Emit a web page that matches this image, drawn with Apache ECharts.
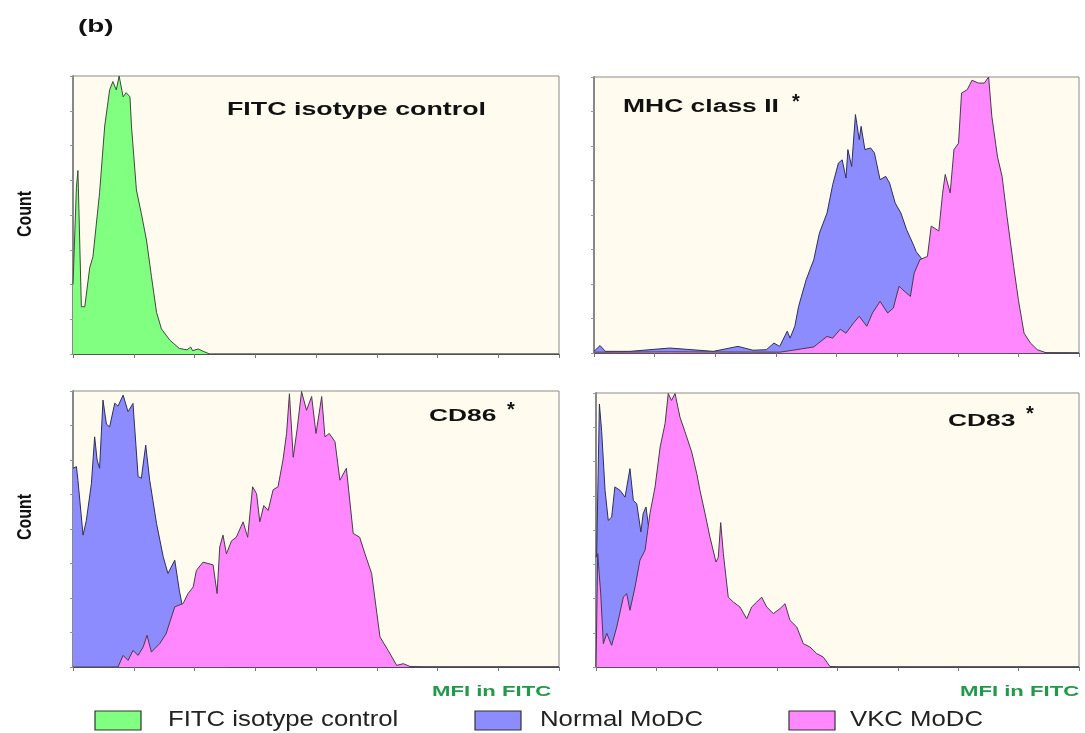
<!DOCTYPE html>
<html>
<head>
<meta charset="utf-8">
<script src="https://cdn.jsdelivr.net/npm/echarts@6/dist/echarts.min.js"></script>
<style>
  html, body { margin: 0; padding: 0; background: #fff; }
  #main { width: 1085px; height: 733px; }
</style>
</head>
<body>
<div id="main"></div>
<script>
// channel positions (0..256) and relative counts (% of panel max)
const isoCh    = [0, 1.8, 2.6, 4.4, 6.2, 8.8, 10.5, 14, 16.7, 19.3, 21, 22.8, 24.3, 26.4, 28, 30, 30.8, 33.4, 36, 38.7, 41.3, 44, 46.6, 51, 56, 60, 62, 63, 66, 68.5, 72, 256];
const isoCount = [25, 60, 66, 17, 17, 31, 35, 58, 82, 95, 98, 95, 100, 92.5, 94, 92.5, 82, 59, 50.5, 41, 28, 15, 9, 5, 2, 1.5, 2.5, 1.2, 1.8, 1, 0, 0];

const mhcNormalCh    = [0, 3.2, 6, 19, 40, 63, 76, 84, 91, 95, 98, 102, 103.5, 106, 108, 112, 116, 119, 123, 126, 129, 131, 133, 134, 136, 138, 140, 141, 143, 146, 148, 151, 154, 156, 159, 162, 165, 169, 170, 176, 183, 190, 197, 204, 213, 256];
const mhcNormalCount = [0.6, 2.7, 0.6, 0.6, 1.8, 0.6, 2.4, 1, 1.2, 3.6, 2.4, 7.9, 5.4, 9.7, 16.9, 26.6, 33.8, 43.5, 50.7, 61, 68.8, 70, 63.4, 73.7, 67.6, 86.4, 77.3, 82.1, 73.7, 74.3, 72.5, 62.8, 64, 61.6, 54.3, 50.7, 44.7, 38.6, 36.8, 31.4, 21.7, 12, 4.8, 1.2, 0.2, 0];
const mhcVkcCh    = [0, 40, 98, 105, 116, 123, 126, 130, 133, 137, 140, 144, 147, 151, 155, 158, 161, 163, 167, 169, 172, 176, 178, 182, 184, 185.4, 188, 190, 192.4, 194, 197, 199.5, 203, 206, 208.3, 210, 213, 215.4, 218, 221.5, 224, 227, 230.4, 234, 239, 256];
const mhcVkcCount = [0.3, 0.4, 0.3, 1, 2.2, 6, 5.4, 8.6, 7.2, 10.9, 13.3, 9.7, 14.5, 18.7, 14.5, 16.3, 24.2, 22.9, 20.5, 29, 33.8, 35, 46, 44.2, 57.9, 64.7, 58, 73.7, 76, 94.2, 95.4, 98.8, 97.8, 97.8, 100, 85.7, 71, 64, 49.5, 31.4, 19.3, 7.2, 3.6, 1.2, 0, 0];

const cd86NormalCh    = [0, 1.8, 2.6, 5.3, 7, 9.7, 11.4, 12.7, 14, 15.8, 17.6, 19.3, 22, 23.7, 26.4, 29, 31.6, 34.3, 36, 38.3, 40.4, 44, 47.5, 50, 53.6, 56, 58, 59.8, 63.3, 68.5, 75.6, 81, 256];
const cd86NormalCount = [72, 72.6, 67.7, 47.8, 53, 66.5, 83.4, 75, 72, 96.7, 88, 87, 95.6, 94.5, 98.5, 92.5, 95.5, 69, 68.4, 80.4, 67.7, 52, 40, 33.9, 38.7, 27.8, 20.6, 25, 17, 7, 1.2, 0, 0];
const cd86VkcCh    = [0, 17, 17.6, 23.7, 26.4, 29, 31.6, 34.3, 37, 39, 41.3, 45.7, 49, 53.6, 58, 60.6, 63.3, 65, 68.5, 73.8, 75.9, 77.3, 79, 80.8, 83.5, 86, 89.6, 92, 94.6, 96.7, 98.4, 100.5, 102.8, 105.4, 108, 110.6, 112.5, 114, 116, 118, 120.4, 123, 125.7, 128, 131, 132.7, 135, 138, 140.6, 144, 147.6, 151, 153.8, 157.3, 161.7, 166, 170.5, 174, 177.5, 186, 256];
const cd86VkcCount = [0, 0, 0.2, 0, 4.2, 2.4, 6, 4.2, 7.3, 11.5, 5.4, 8.5, 12, 21.8, 23, 26.6, 29, 35, 38, 37, 26.6, 43.5, 47.8, 41, 45.7, 47, 52.6, 47, 65.3, 62.8, 52.6, 58.5, 56.7, 64.2, 65.3, 75, 84.6, 99, 76, 85.9, 99.8, 93, 98, 84.6, 98, 83.4, 84.6, 81.6, 67.7, 72, 48.4, 47, 41, 33.9, 10.9, 6, 0.6, 1.2, 0.2, 0, 0];

const cd83NormalCh    = [0, 0.35, 1.8, 3, 4.8, 6.5, 8.3, 10, 12.7, 15.4, 18, 19.8, 21.6, 23.8, 25, 26.5, 27.7, 30.4, 35.7, 41, 44.5, 256];
const cd83NormalCount = [40, 41, 96, 86, 64.5, 53.5, 54.7, 65.7, 64.5, 62, 72.4, 60.8, 59.6, 49.3, 56, 58.4, 52, 46, 25.5, 7.3, 0, 0];
const cd83VkcCh    = [0, 0.9, 1.2, 2.5, 3.9, 5.7, 8.3, 11, 14.5, 16.25, 18, 20.7, 23.3, 26, 28.6, 31.3, 34, 36.6, 38.3, 40, 41.9, 44.5, 47.2, 50.7, 53.4, 55.1, 57.8, 60.4, 63.6, 64.8, 66.1, 67.5, 70.1, 72.8, 76.3, 79.9, 82.5, 85.2, 87.8, 90.5, 94, 97.5, 100.2, 102.8, 106.4, 109.9, 113.4, 117, 120.5, 124, 129, 256];
const cd83VkcCount = [0, 41.4, 41.4, 26.8, 8.5, 12.3, 7.9, 14.6, 25.5, 26.8, 20.7, 29.2, 39, 42.6, 56, 65.7, 80.3, 88.8, 99.8, 97.3, 99.8, 91.2, 85.8, 78.5, 70.6, 64.5, 56, 47.4, 38.3, 40, 52.7, 41.4, 25.5, 23.7, 21.9, 17.6, 21.9, 23.7, 25.5, 21.9, 19.5, 21.3, 23.1, 17, 14.6, 8.5, 7.3, 4.9, 3.6, 0.2, 0, 0];

const legendNames = ['FITC isotype control', 'Normal MoDC', 'VKC MoDC'];
const fillColors  = ['#80ff80', '#8c8cff', '#ff88ff'];
const edgeColors  = ['#3d4a3d', '#2e2e5a', '#4a3a4a'];

var chart = echarts.init(document.getElementById('main'));

var grids = [
    { left: 73,  top: 76,  width: 486, height: 278 },
    { left: 594, top: 77,  width: 485, height: 276 },
    { left: 73,  top: 391, width: 486, height: 276 },
    { left: 596, top: 393, width: 483, height: 274 }
];

function zip(ch, cnt) {
    return ch.map(function (c, i) { return [c, cnt[i]]; });
}

function hist(kind, ch, cnt, idx) {
    return {
        name: legendNames[kind],
        type: 'line',
        xAxisIndex: idx,
        yAxisIndex: idx,
        z: 2 + kind,   // VKC drawn above Normal
        data: zip(ch, cnt),
        showSymbol: false,
        silent: true,
        lineStyle: { color: edgeColors[kind], width: 1 },
        areaStyle: { color: fillColors[kind], opacity: 1 },
        color: fillColors[kind]
    };
}

var xAxes = [], yAxes = [];
grids.forEach(function (g, i) {
    xAxes.push({
        gridIndex: i, type: 'value', min: 0, max: 256, interval: 32,
        axisLine: { lineStyle: { color: '#555', width: 1 } },
        axisTick: { show: true, length: 4, lineStyle: { color: '#777' } },
        axisLabel: { show: false },
        splitLine: { show: false }
    });
    yAxes.push({
        gridIndex: i, type: 'value', min: 0, max: 100, interval: 12.5,
        axisLine: { show: true, lineStyle: { color: '#888', width: 2 } },
        axisTick: { show: true, length: 3, lineStyle: { color: '#999' } },
        axisLabel: { show: false },
        splitLine: { show: false }
    });
});

function txt(x, y, s, font, opts) {
    opts = opts || {};
    return {
        type: 'text', x: x, y: y,
        scaleX: opts.sx || 1, scaleY: opts.sy || 1,
        rotation: opts.rot || 0,
        style: {
            text: s, font: font, fill: opts.fill || '#111',
            textAlign: opts.align || 'left', textVerticalAlign: 'middle'
        }
    };
}

var graphics = [
    txt(78, 27, '(b)', 'bold 18px "Liberation Sans"', { sx: 1.55 }),
    txt(227, 110, 'FITC isotype control', 'bold 19px "Liberation Sans"', { sx: 1.41 }),
    txt(623, 107, 'MHC class II', 'bold 18px "Liberation Sans"', { sx: 1.47 }),
    txt(792, 102, '*', 'bold 20px "Liberation Sans"'),
    txt(429, 416, 'CD86', 'bold 17px "Liberation Sans"', { sx: 1.55 }),
    txt(507, 410, '*', 'bold 20px "Liberation Sans"'),
    txt(948, 421, 'CD83', 'bold 17px "Liberation Sans"', { sx: 1.55 }),
    txt(1026, 414, '*', 'bold 20px "Liberation Sans"'),
    txt(25, 214, 'Count', 'bold 21px "Liberation Sans"', { align: 'center', rot: Math.PI / 2, sx: 0.76 }),
    txt(25, 517, 'Count', 'bold 21px "Liberation Sans"', { align: 'center', rot: Math.PI / 2, sx: 0.76 }),
    txt(432, 692, 'MFI in FITC', 'bold 14px "Liberation Sans"', { sx: 1.58, fill: '#22994a' }),
    txt(960, 692, 'MFI in FITC', 'bold 14px "Liberation Sans"', { sx: 1.58, fill: '#22994a' })
];

// legend: boxes and labels
var legendBoxX = [95, 475, 789];
var legendTextX = [168, 540, 850];
legendNames.forEach(function (n, i) {
    graphics.push({
        type: 'rect', shape: { x: legendBoxX[i], y: 711, width: 46, height: 19 },
        style: { fill: fillColors[i], stroke: '#333', lineWidth: 1.2 }
    });
    graphics.push(txt(legendTextX[i], 720, n, '22px "Liberation Sans"', { sx: 1.17, fill: '#222' }));
});

var option = {
    backgroundColor: '#ffffff',
    animation: false,
    grid: grids.map(function (g) {
        return Object.assign({ show: true, backgroundColor: '#fffcef', borderColor: '#8a8a8a', borderWidth: 1 }, g);
    }),
    xAxis: xAxes,
    yAxis: yAxes,
    series: [
        hist(0, isoCh, isoCount, 0),
        hist(1, mhcNormalCh, mhcNormalCount, 1),
        hist(2, mhcVkcCh, mhcVkcCount, 1),
        hist(1, cd86NormalCh, cd86NormalCount, 2),
        hist(2, cd86VkcCh, cd86VkcCount, 2),
        hist(1, cd83NormalCh, cd83NormalCount, 3),
        hist(2, cd83VkcCh, cd83VkcCount, 3)
    ],
    graphic: graphics
};

chart.setOption(option);
</script>
</body>
</html>
